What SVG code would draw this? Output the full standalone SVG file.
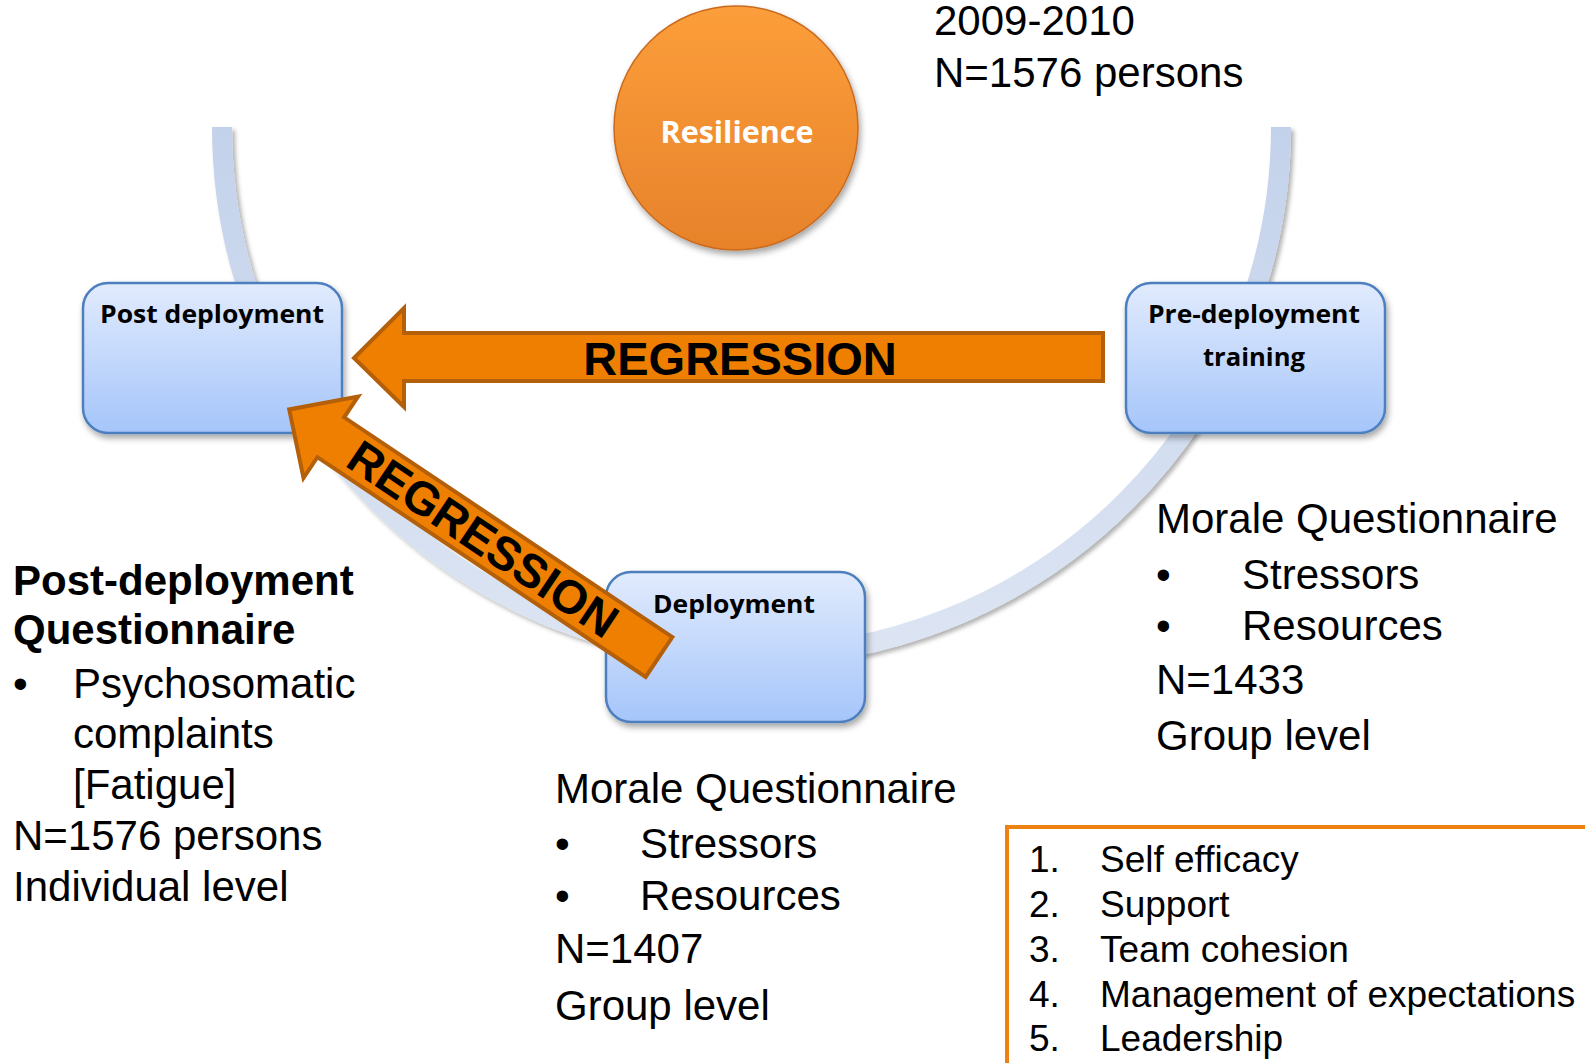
<svg xmlns="http://www.w3.org/2000/svg" width="1585" height="1063" viewBox="0 0 1585 1063">
<defs>
<linearGradient id="boxGrad" x1="0" y1="0" x2="0" y2="1">
<stop offset="0" stop-color="#E1EBFD"/>
<stop offset="1" stop-color="#A5C5FA"/>
</linearGradient>
<linearGradient id="circGrad" x1="0" y1="0" x2="0" y2="1">
<stop offset="0" stop-color="#FC9E3A"/>
<stop offset="1" stop-color="#E7822B"/>
</linearGradient>
<linearGradient id="arcGrad" gradientUnits="userSpaceOnUse" x1="0" y1="127" x2="0" y2="660">
<stop offset="0" stop-color="#C3D2EB"/>
<stop offset="1" stop-color="#DDE5F3"/>
</linearGradient>
<filter id="shadow" x="-20%" y="-20%" width="140%" height="140%">
<feDropShadow dx="2" dy="4" stdDeviation="3" flood-color="#000" flood-opacity="0.35"/>
</filter>
<filter id="arcShadow" x="-10%" y="-10%" width="120%" height="130%">
<feDropShadow dx="3" dy="3" stdDeviation="2" flood-color="#000" flood-opacity="0.3"/>
</filter>
<style>
.box{fill:url(#boxGrad);stroke:#4D7FBF;stroke-width:2.5;filter:url(#shadow)}
.lbl{font-family:"Open Sans","Noto Sans",sans-serif;font-weight:bold;font-size:25px;fill:#000;text-anchor:middle}
.t{font-family:"Liberation Sans",Arial,sans-serif;font-size:42px;fill:#000}
.b{font-weight:bold}
.l{font-family:"Liberation Sans",Arial,sans-serif;font-size:37px;fill:#000}
.arrow{fill:#EE7F00;stroke:#B4600A;stroke-width:4;stroke-linejoin:miter}
.reg{font-family:"Liberation Sans",Arial,sans-serif;font-weight:bold;font-size:47px;fill:#000;text-anchor:middle}
</style>
</defs>
<rect width="1585" height="1063" fill="#fff"/>

<g id="connectors">
<path id="cycle-arc" d="M 222 127 A 529.5 529.5 0 0 0 1281 127" fill="none" stroke="url(#arcGrad)" stroke-width="20" filter="url(#arcShadow)"/>
</g>

<g id="resilience">
<circle cx="736" cy="128" r="122" fill="url(#circGrad)" stroke="#C96B1F" stroke-width="1.5" filter="url(#shadow)"/>
<text x="737" y="143" class="lbl" style="fill:#fff;font-size:31px" textLength="153" lengthAdjust="spacingAndGlyphs">Resilience</text>
</g>

<g id="post-deployment">
<rect x="83" y="283" width="259" height="150" rx="25" class="box"/>
<text x="212" y="323" class="lbl" textLength="224" lengthAdjust="spacingAndGlyphs">Post deployment</text>
</g>

<g id="pre-deployment">
<rect x="1126" y="283" width="259" height="150" rx="25" class="box"/>
<text x="1254" y="323" class="lbl" textLength="212" lengthAdjust="spacingAndGlyphs">Pre-deployment</text>
<text x="1254" y="366" class="lbl" textLength="102" lengthAdjust="spacingAndGlyphs">training</text>
</g>

<g id="deployment">
<rect x="606" y="572" width="259" height="150" rx="25" class="box"/>
<text x="734" y="613" class="lbl" textLength="162" lengthAdjust="spacingAndGlyphs">Deployment</text>
</g>

<g id="arrows">
<g id="regression-horizontal">
<path class="arrow" d="M 1103 333 L 404 333 L 404 308 L 354 358 L 404 407 L 404 381 L 1103 381 Z"/>
<text x="740" y="375" class="reg">REGRESSION</text>
</g>
<g id="regression-diagonal" transform="translate(659,657) rotate(33.8)">
<path class="arrow" d="M 0 -24 L -395 -24 L -395 -49 L -445 0 L -395 49 L -395 24 L 0 24 Z"/>
<text x="-212" y="16" class="reg">REGRESSION</text>
</g>
</g>

<g id="period-text">
<text x="934" y="35" class="t">2009-2010</text>
<text x="934" y="87" class="t">N=1576 persons</text>
</g>

<g id="post-text">
<text x="13" y="595" class="t b">Post-deployment</text>
<text x="13" y="644" class="t b">Questionnaire</text>
<text x="13" y="698" class="t">•</text>
<text x="73" y="698" class="t">Psychosomatic</text>
<text x="73" y="748" class="t">complaints</text>
<text x="73" y="799" class="t">[Fatigue]</text>
<text x="13" y="850" class="t">N=1576 persons</text>
<text x="13" y="901" class="t">Individual level</text>
</g>

<g id="pre-text">
<text x="1156" y="533" class="t">Morale Questionnaire</text>
<text x="1156" y="589" class="t">•</text>
<text x="1242" y="589" class="t">Stressors</text>
<text x="1156" y="640" class="t">•</text>
<text x="1242" y="640" class="t">Resources</text>
<text x="1156" y="694" class="t">N=1433</text>
<text x="1156" y="750" class="t">Group level</text>
</g>

<g id="deployment-text">
<text x="555" y="803" class="t">Morale Questionnaire</text>
<text x="555" y="858" class="t">•</text>
<text x="640" y="858" class="t">Stressors</text>
<text x="555" y="910" class="t">•</text>
<text x="640" y="910" class="t">Resources</text>
<text x="555" y="963" class="t">N=1407</text>
<text x="555" y="1020" class="t">Group level</text>
</g>

<g id="resilience-factors">
<rect x="1007" y="827" width="700" height="300" fill="none" stroke="#EE8210" stroke-width="4"/>
<text x="1029" y="872" class="l">1.</text><text x="1100" y="872" class="l">Self efficacy</text>
<text x="1029" y="917" class="l">2.</text><text x="1100" y="917" class="l">Support</text>
<text x="1029" y="962" class="l">3.</text><text x="1100" y="962" class="l">Team cohesion</text>
<text x="1029" y="1007" class="l">4.</text><text x="1100" y="1007" class="l">Management of expectations</text>
<text x="1029" y="1051" class="l">5.</text><text x="1100" y="1051" class="l">Leadership</text>
</g>
</svg>
